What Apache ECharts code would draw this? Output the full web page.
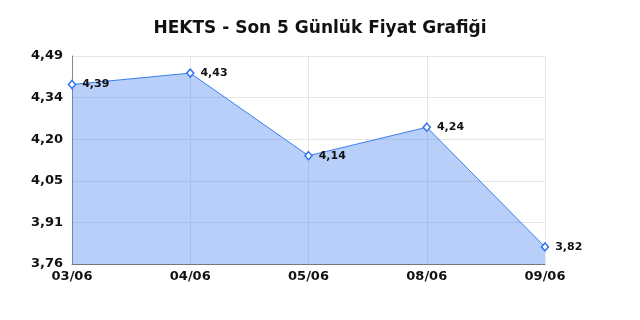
<!DOCTYPE html>
<html>
<head>
<meta charset="utf-8">
<script src="https://cdn.jsdelivr.net/npm/echarts@6/dist/echarts.min.js"></script>
<style>
  html, body { margin: 0; padding: 0; background: #fff; }
  #chart { width: 640px; height: 320px; }
</style>
</head>
<body>
<div id="chart"></div>
<script>
// veriler
const dates = ['03/06', '04/06', '05/06', '08/06', '09/06'];
const prices = [4.39, 4.43, 4.14, 4.24, 3.82];
const yMin = 3.76, yMax = 4.49, yStep = 0.146;

const fmt = v => v.toFixed(2).replace('.', ',');

const chart = echarts.init(document.getElementById('chart'));
chart.setOption({
  animation: false,
  textStyle: { fontFamily: 'DejaVu Sans' },
  title: {
    text: 'HEKTS - Son 5 Günlük Fiyat Grafiği',
    left: 'center',
    top: 15,
    textStyle: { fontSize: 17, fontWeight: 'bold', color: '#111', fontFamily: 'DejaVu Sans' }
  },
  grid: { left: 72, right: 95, top: 56, bottom: 56 },
  xAxis: {
    type: 'category',
    data: dates,
    boundaryGap: false,
    axisLine: { lineStyle: { color: '#777', width: 1 } },
    axisTick: { show: false },
    axisLabel: { color: '#111', fontWeight: 'bold', fontSize: 13, margin: 6 },
    splitLine: { show: true, lineStyle: { color: '#e6e6e6' } }
  },
  yAxis: {
    type: 'value',
    min: yMin,
    max: yMax,
    interval: yStep,
    axisLine: { show: true, lineStyle: { color: '#888', width: 1 } },
    axisTick: { show: false },
    axisLabel: { color: '#111', fontWeight: 'bold', fontSize: 13, margin: 9, formatter: fmt },
    splitLine: { show: true, lineStyle: { color: '#e6e6e6' } }
  },
  series: [{
    type: 'line',
    data: prices,
    symbol: 'diamond',
    symbolSize: [7, 8],
    showAllSymbol: true,
    lineStyle: { color: '#3b7ded', width: 1 },
    itemStyle: { color: '#fff', borderColor: '#2f74ee', borderWidth: 1.5 },
    areaStyle: { color: 'rgba(74,134,240,0.4)', opacity: 1, origin: 'start' },
    label: {
      show: true,
      position: 'right',
      distance: 6,
      color: '#111',
      fontWeight: 'bold',
      fontSize: 11,
      formatter: p => fmt(p.value)
    }
  }]
});
</script>
</body>
</html>
